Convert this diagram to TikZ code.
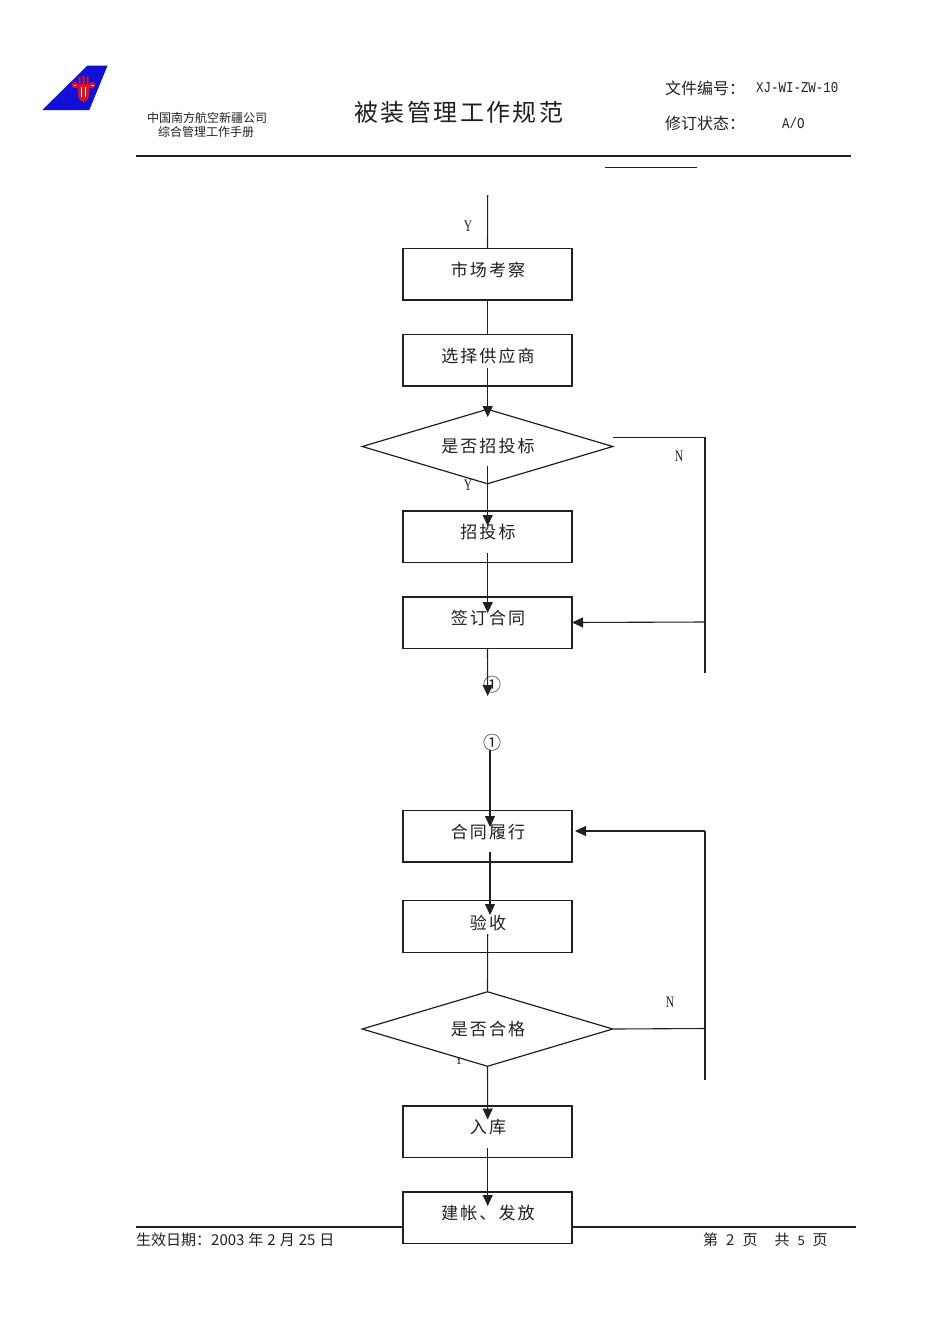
\documentclass[tikz,border=0pt]{standalone}
\usepackage{fontspec}
\usepackage{graphicx}
\usetikzlibrary{arrows.meta,shapes.geometric}
\setmainfont{Liberation Serif}
\newfontfamily\cjk{Noto Sans CJK SC}
\newfontfamily\cjkspaced[LetterSpace=12]{Noto Sans CJK SC}
\newfontfamily\cjktitle[LetterSpace=10]{Noto Sans CJK SC}
\newfontfamily\monof{Liberation Mono}
\definecolor{tailblue}{HTML}{1010D8}
\definecolor{tailred}{HTML}{E01020}
\definecolor{ink}{HTML}{202020}
\tikzset{
  x=1pt,y=-1pt,
  stepbox/.style={draw=ink,line width=1.2pt,fill=white,minimum width=169pt,minimum height=51.5pt,inner sep=0pt},
  decision/.style={draw=ink,line width=1.2pt,fill=white,diamond,aspect=3.37,minimum width=251pt,minimum height=75pt,inner sep=0pt},
  boxtext/.style={font=\fontsize{17}{20}\cjkspaced,text=ink,inner sep=0pt},
  flow/.style={draw=ink,line width=1.1pt},
  flowarrow/.style={flow,-{Triangle[length=11pt,width=10pt]}},
  rule/.style={draw=ink,line width=1.2pt},
  letter/.style={font=\fontsize{16}{18}\selectfont,text=ink,inner sep=0pt},
  circled/.style={font=\fontsize{18}{20}\cjk,text=ink,inner sep=0pt},
  headtext/.style={font=\fontsize{16}{18}\cjk,text=ink,inner sep=0pt,anchor=west},
  monotext/.style={font=\fontsize{15}{18}\monof,text=ink,inner sep=0pt,anchor=west},
  small/.style={font=\fontsize{12}{14}\cjk,text=ink,inner sep=0pt},
  foot/.style={font=\fontsize{15}{17}\cjk,text=ink,inner sep=0pt,anchor=west}
}
\newcommand{\narrow}[1]{\scalebox{0.72}[1]{#1}}
\newcommand{\monowide}[1]{\scalebox{0.83}[1]{#1}}
\begin{document}
\begin{tikzpicture}
\useasboundingbox (0,0) rectangle (950,1344);
% logo
\fill[tailblue] (87.3,65.7) -- (107.5,65.7) -- (89.3,110) -- (42.3,110) -- cycle;
\fill[tailred] (77.5,85) .. controls (77.5,92) and (77.5,101.5) .. (83.5,102) .. controls (89.5,101.5) and (89.5,92) .. (89.5,85) -- cycle;
\fill[tailred] (74.5,85) circle (3) (92.5,85) circle (3);
\fill[tailred] (74.5,84) rectangle (92.5,88);
\fill[tailred] (78.5,78) rectangle (80.5,86) (82.5,77) rectangle (84.5,86) (86.5,78) rectangle (88.5,86);
\fill[tailred] (79.5,78) circle (1.5) (83.5,77) circle (1.5) (87.5,78) circle (1.5);
\draw[white,line width=.6pt] (81.5,87) -- (81.5,97) (85.5,87) -- (85.5,97) (73.5,85) -- (76,85) (91,85) -- (93.5,85);
% rules
\coordinate (hrL) at (136,156); \coordinate (hrR) at (851,156);
\coordinate (srL) at (605,167); \coordinate (srR) at (697,167);
\coordinate (frL) at (136,1227); \coordinate (frR) at (856,1227);
\draw[rule] (hrL) -- (hrR);
\draw[rule,line width=1pt] (srL) -- (srR);
\draw[rule] (frL) -- (frR);
% header texts
\node[small] (co1) at (207,117.5) {中国南方航空新疆公司};
\node[small] (co2) at (206,132) {综合管理工作手册};
\node[font=\fontsize{24}{28}\cjktitle,text=ink,inner sep=0pt] (title) at (459,112.5) {被装管理工作规范};
\node[headtext] (h1) at (665,88) {文件编号：};
\node[monotext] (h1v) at (756,88) {\monowide{XJ-WI-ZW-10}};
\node[headtext] (h2) at (665,123) {修订状态：};
\node[monotext] (h2v) at (782,123) {\monowide{A/O}};
% letters under the shapes
\node[letter] (y1) at (468,226) {\narrow{Y}};
\node[letter] (y2) at (468,485) {\narrow{Y}};
\node[letter] (y3) at (459,1059.5) {\narrow{Y}};
\node[letter] (n1) at (679,456) {\narrow{N}};
\node[letter] (n2) at (670,1002) {\narrow{N}};
% shapes
\node[stepbox] (b1) at (487.5,274.2) {};
\node[stepbox] (b2) at (487.5,360.2) {};
\node[decision] (d1) at (487.5,446.5) {};
\node[stepbox] (b3) at (487.5,536.7) {};
\node[stepbox] (b4) at (487.5,622.7) {};
\node[stepbox] (b5) at (487.5,836.2) {};
\node[stepbox] (b6) at (487.5,926.5) {};
\node[decision] (d2) at (487.5,1029) {};
\node[stepbox] (b7) at (487.5,1131.7) {};
\node[stepbox] (b8) at (487.5,1217.7) {};
% box texts
\node[boxtext] (t1) at (488,270) {市场考察};
\node[boxtext] (t2) at (488,356) {选择供应商};
\node[boxtext] (t3) at (488,446.5) {是否招投标};
\node[boxtext] (t4) at (488,532.5) {招投标};
\node[boxtext] (t5) at (488,618.5) {签订合同};
\node[boxtext] (t6) at (488,832) {合同履行};
\node[boxtext] (t7) at (488,922.5) {验收};
\node[boxtext] (t8) at (488,1029.5) {是否合格};
\node[boxtext] (t9) at (488,1127) {入库};
\node[boxtext] (t10) at (488,1213.5) {建帐、发放};
% footer
\node[foot] (f1) at (136,1240) {生效日期：2003\hspace{4pt}年\hspace{4pt}2\hspace{4pt}月\hspace{4pt}25\hspace{4pt}日};
\node[foot] (f2) at (703,1240) {第\hspace{8pt}2\hspace{8pt}页\hspace{17pt}共\hspace{8pt}{\fontsize{13}{15}\selectfont 5}\hspace{8pt}页};
% connector circles
\node[circled] (c1) at (492,685) {①};
\node[circled] (c2) at (492,743) {①};
% free ends
\coordinate (top) at (487.7,195);
\coordinate (a2s) at (487.7,368);
\coordinate (a2e) at (487.7,417);
\coordinate (a3s) at (487.7,466);
\coordinate (a3e) at (487.7,526);
\coordinate (a4s) at (487.7,552.5);
\coordinate (a4e) at (487.7,613);
\coordinate (a5e) at (487.7,696);
\coordinate (a6s) at (490,750);
\coordinate (a6e) at (490,827);
\coordinate (a7s) at (490,851.5);
\coordinate (a7e) at (490,915);
\coordinate (a8s) at (487.7,934);
\coordinate (a9e) at (487.7,1119.5);
\coordinate (a10s) at (487.7,1148);
\coordinate (a10e) at (487.7,1206);
\coordinate (n1a) at (613,437.5);
\coordinate (n1b) at (705,437.5);
\coordinate (n1c) at (705,673);
\coordinate (n1d) at (705,622);
\coordinate (n1e) at (572,622.5);
\coordinate (n2b) at (705,1028.5);
\coordinate (n2c) at (705,1080);
\coordinate (n2d) at (705,831);
\coordinate (n2e) at (575,831);
% connectors
\draw[flow] (top) -- (b1.north);
\draw[flow] (b1.south) -- (b2.north);
\draw[flowarrow] (a2s) -- (a2e);
\draw[flowarrow] (a3s) -- (a3e);
\draw[flowarrow] (a4s) -- (a4e);
\draw[flowarrow] (b4.south) -- (a5e);
\draw[flow] (n1a) -- (n1b) -- (n1c);
\draw[flowarrow] (n1d) -- (n1e);
\draw[flowarrow] (a6s) -- (a6e);
\draw[flowarrow] (a7s) -- (a7e);
\draw[flow] (a8s) -- (d2.north);
\draw[flow] (d2.east) -- (n2b);
\draw[flow] (n2d) -- (n2c);
\draw[flowarrow] (n2d) -- (n2e);
\draw[flowarrow] (d2.south) -- (a9e);
\draw[flowarrow] (a10s) -- (a10e);
\end{tikzpicture}
\end{document}
